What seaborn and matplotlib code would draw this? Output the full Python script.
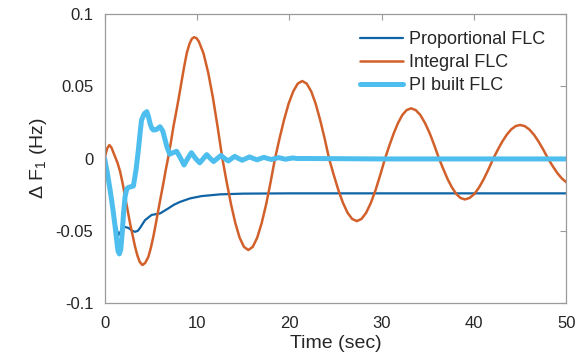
import numpy as np
import pandas as pd
import matplotlib
matplotlib.use("Agg")
import matplotlib.pyplot as plt
import seaborn as sns

# ---- data ----
prop_t = [0, 0.4, 0.8, 1.2, 1.5, 1.8, 2.0, 2.58, 3.0, 3.3, 3.6, 3.84, 4.38, 5.1, 6.0,
          6.9, 7.5, 8.17, 9.25, 10.5, 12.5, 15, 20, 30, 40, 50]
prop_v = [0, -0.015, -0.032, -0.046, -0.053, -0.050, -0.047, -0.048, -0.050, -0.0507,
          -0.050, -0.048, -0.0426, -0.039, -0.038, -0.0345, -0.032, -0.030, -0.0276,
          -0.026, -0.0248, -0.0243, -0.0241, -0.0241, -0.0241, -0.0241]

int_t = [0, 0.15, 0.3, 0.52, 0.75, 0.95, 1.14, 1.4, 1.68, 1.95, 2.22, 2.5, 2.76, 3.03,
         3.3, 3.55, 3.8, 4.1, 4.4, 4.74, 5.0, 5.28, 5.55, 5.82, 6.1, 6.36, 6.62, 6.9,
         7.2, 7.45, 7.72, 7.99, 8.3, 8.6, 8.9, 9.2, 9.45, 9.69,
         9.95, 10.2, 10.71, 11.22, 11.73, 12.24, 12.75,
         13.22, 13.69, 14.16, 14.62, 15.09, 15.56,
         16.04, 16.52, 17.0, 17.49, 17.97, 18.45,
         18.94, 19.43, 19.92, 20.42, 20.91, 21.4,
         21.88, 22.37, 22.85, 23.33, 23.82, 24.3,
         24.8, 25.3, 25.8, 26.3, 26.8, 27.3,
         27.81, 28.32, 28.83, 29.34, 29.85, 30.36,
         30.83, 31.3, 31.76, 32.23, 32.7, 33.17,
         33.68, 34.18, 34.69, 35.2, 35.7, 36.2,
         36.67, 37.13, 37.6, 38.07, 38.53, 39.0,
         39.51, 40.03, 40.54, 41.05, 41.57, 42.08,
         42.56, 43.04, 43.53, 44.01, 44.49, 44.97,
         45.48, 45.98, 46.49, 46.99, 47.5, 48.0,
         48.5, 49.0, 49.5, 50.0]
int_v = [0, 0.004, 0.0072, 0.0093, 0.0075, 0.0042, 0.0012, -0.003, -0.009, -0.017,
         -0.0264, -0.036, -0.0449, -0.053, -0.061, -0.067, -0.0715, -0.0737, -0.0722,
         -0.068, -0.062, -0.054, -0.045, -0.0356, -0.026, -0.0172, -0.008, 0.0012,
         0.012, 0.022, 0.031, 0.0405, 0.052, 0.063, 0.073, 0.0795, 0.0828, 0.0839,
         0.0832, 0.081, 0.0727, 0.0593, 0.042, 0.0217, 0.0,
         -0.0164, -0.0317, -0.0448, -0.0548, -0.0611, -0.0633,
         -0.0611, -0.0548, -0.0448, -0.0317, -0.0164, 0.0,
         0.0139, 0.0268, 0.0379, 0.0464, 0.0518, 0.0536,
         0.0518, 0.0464, 0.0379, 0.0268, 0.0139, 0.0,
         -0.0112, -0.0217, -0.0306, -0.0375, -0.0418, -0.0433,
         -0.0418, -0.0375, -0.0306, -0.0217, -0.0112, 0.0,
         0.009, 0.0174, 0.0245, 0.0301, 0.0335, 0.0347,
         0.0335, 0.0301, 0.0245, 0.0174, 0.009, 0.0,
         -0.0073, -0.0142, -0.020, -0.0245, -0.0273, -0.0283,
         -0.0273, -0.0245, -0.020, -0.0142, -0.0073, 0.0,
         0.006, 0.0116, 0.0164, 0.0201, 0.0224, 0.0232,
         0.0224, 0.0201, 0.0164, 0.0116, 0.006, 0.0,
         -0.0052, -0.0100, -0.0138, -0.0165]

pi_t = [0, 0.3, 0.6, 0.9, 1.14, 1.3, 1.45, 1.6, 1.75, 1.9, 2.05, 2.22, 2.4, 2.58, 2.85,
        3.12, 3.4, 3.66, 3.85, 4.0, 4.3, 4.57, 4.75, 4.92, 5.1, 5.28, 5.6, 6.0, 6.3,
        6.55, 6.75, 7.05, 7.4, 7.8, 8.2, 8.6, 9.0, 9.4, 9.85, 10.3, 10.7, 11.06, 11.45,
        11.8, 12.2, 12.6, 13.0, 13.4, 13.75, 14.1, 14.5, 14.9, 15.3, 15.7, 16.1, 16.5,
        16.9, 17.25, 17.65, 18.05, 18.45, 18.85, 19.25, 19.6, 20.0, 20.4, 20.8, 22,
        30, 40, 50]
pi_v = [0, -0.010, -0.0218, -0.035, -0.047, -0.056, -0.064, -0.066, -0.063, -0.052,
        -0.038, -0.0264, -0.021, -0.020, -0.0195, -0.019, -0.008, 0.006, 0.018, 0.0266,
        0.031, 0.0324, 0.029, 0.0243, 0.021, 0.0197, 0.020, 0.022, 0.019, 0.013, 0.008,
        0.003, 0.004, 0.0050, 0.0005, -0.0045, 0.0, 0.0040, 0.0, -0.0030, 0.0, 0.0027,
        0.0, -0.0021, 0.0, 0.0021, 0.0, -0.0017, 0.0, 0.0015, 0.0, -0.0012, 0.0, 0.0011,
        0.0, -0.0009, 0.0, 0.0008, 0.0, -0.0007, 0.0, 0.0006, 0.0, -0.0005, 0.0, 0.0004,
        0.0, 0.0, -0.0003, -0.0003, -0.0003]

series_names = ["Proportional FLC", "Integral FLC", "PI built FLC"]
x_ticks = [0, 10, 20, 30, 40, 50]
x_tick_labels = ["0", "10", "20", "30", "40", "50"]
y_ticks = [-0.1, -0.05, 0, 0.05, 0.1]
y_tick_labels = ["-0.1", "-0.05", "0", "0.05", "0.1"]

# ---- style ----
sns.set_style("white")
plt.rcParams["font.family"] = ["Liberation Sans", "DejaVu Sans"]
plt.rcParams["mathtext.fontset"] = "custom"
plt.rcParams["mathtext.rm"] = "Liberation Sans"
plt.rcParams["mathtext.it"] = "Liberation Sans"
plt.rcParams["axes.unicode_minus"] = False

colors = ["#0f64a6", "#d2602a", "#4DBEEE"]
widths = [1.6, 1.8, 3.6]

fig = plt.figure(figsize=(5.81, 3.57), dpi=100)
ax = fig.add_axes([0.180, 0.151, 0.795, 0.810])

frames = [
    pd.DataFrame({"t": prop_t, "v": prop_v}),
    pd.DataFrame({"t": int_t, "v": int_v}),
    pd.DataFrame({"t": pi_t, "v": pi_v}),
]
for df, name, c, lw in zip(frames, series_names, colors, widths):
    sns.lineplot(data=df, x="t", y="v", ax=ax, color=c, linewidth=lw, label=name,
                 sort=False, estimator=None)

ax.set_xlim(0, 50)
ax.set_ylim(-0.1, 0.1)
ax.set_xticks(x_ticks)
ax.set_xticklabels(x_tick_labels)
ax.set_yticks(y_ticks)
ax.set_yticklabels(y_tick_labels)

for sp in ax.spines.values():
    sp.set_visible(True)
    sp.set_color("#9a9a9a")
    sp.set_linewidth(0.9)

ax.tick_params(axis="both", direction="in", length=4, width=0.8, color="#9a9a9a",
               labelsize=12, labelcolor="#262626", top=True, right=True)
ax.tick_params(axis="x", pad=9)
ax.tick_params(axis="y", pad=8)

ax.set_xlabel("Time (sec)", fontsize=14, color="#262626", labelpad=3)
ax.set_ylabel("Δ F$_1$ (Hz)", fontsize=14, color="#262626", labelpad=5)

leg = ax.legend(loc="upper left", bbox_to_anchor=(0.553, 0.94), frameon=False,
                fontsize=13, handlelength=2.4, handletextpad=0.3,
                labelspacing=0.32, borderpad=0, borderaxespad=0)
for txt in leg.get_texts():
    txt.set_color("#262626")

fig.savefig("out.png", dpi=100)
